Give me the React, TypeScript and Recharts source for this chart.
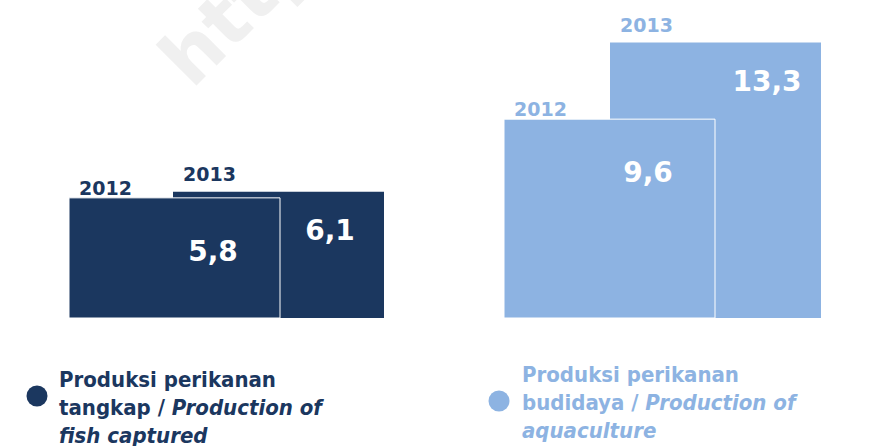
import { Bar, BarChart, Cell, LabelList, XAxis, YAxis } from "recharts";

const groups = ["Produksi perikanan tangkap", "Produksi perikanan budidaya"];
const years = ["2012", "2013"];
const values2012 = [5.8, 9.6];
const values2013 = [6.1, 13.3];
const groupColors = ["#1b375f", "#8db3e2"];

// legend text per group: each line is [plain part, italic part]
const legendLines = [
  [
    ["Produksi perikanan", ""],
    ["tangkap / ", "Production of"],
    ["", "fish captured"],
  ],
  [
    ["Produksi perikanan", ""],
    ["budidaya / ", "Production of"],
    ["", "aquaculture"],
  ],
];

const data = groups.map((group, i) => ({
  group,
  y2012: values2012[i],
  y2013: values2013[i],
}));

const FONT = "'DejaVu Sans', sans-serif";
const LEGEND_FONT = "'DejaVu Sans Condensed', 'DejaVu Sans', sans-serif";

const colorOf = (props: any, values: number[]) => {
  const idx =
    typeof props.index === "number" ? props.index : values.indexOf(props.value);
  return groupColors[idx] ?? groupColors[0];
};

// year caption above the bar
const yearLabel = (year: string, values: number[], dy: number) => (props: any) => {
  const { x, y } = props;
  return (
    <text
      x={Number(x) + 10}
      y={Number(y) + dy}
      fill={colorOf(props, values)}
      fontSize={19}
      fontWeight="bold"
      fontFamily={FONT}
    >
      {year}
    </text>
  );
};

// value inside the bar, comma as decimal mark
const valueLabel = (dx: number, dy: number) => (props: any) => {
  const { x, y, value } = props;
  return (
    <text
      x={Number(x) + dx}
      y={Number(y) + dy}
      fill="#ffffff"
      fontSize={28}
      fontWeight="bold"
      fontFamily={FONT}
      textAnchor="middle"
    >
      {String(value).replace(".", ",")}
    </text>
  );
};

const legendPos = [
  { dotX: 37, dotY: 396, textX: 59, baseY: 387 },
  { dotX: 499, dotY: 401, textX: 522, baseY: 382 },
];

const App = () => {
  return (
    <div style={{ position: "absolute", left: 0, top: 0, width: 874, height: 446 }}>
      <svg
        width={874}
        height={446}
        style={{ position: "absolute", left: 0, top: 0 }}
      >
        {/* faint watermark, mostly outside the frame */}
        <text
          x={192}
          y={90}
          transform="rotate(-45 192 90)"
          fontSize={76}
          fontWeight="bold"
          fontFamily={FONT}
          fill="#f0f0f0"
        >
          http
        </text>
        {legendLines.map((lines, g) => {
          const p = legendPos[g];
          return (
            <g key={g}>
              <circle cx={p.dotX} cy={p.dotY} r={10.5} fill={groupColors[g]} />
              <text
                x={p.textX}
                y={p.baseY}
                fill={groupColors[g]}
                fontSize={22}
                fontWeight="bold"
                fontFamily={LEGEND_FONT}
              >
                {lines.map(([plain, italic], li) => (
                  <tspan key={li} x={p.textX} y={p.baseY + li * 28}>
                    {plain}
                    {italic && <tspan fontStyle="italic">{italic}</tspan>}
                  </tspan>
                ))}
              </text>
            </g>
          );
        })}
      </svg>
      <div style={{ position: "absolute", left: 0, top: 0 }}>
        <BarChart
          width={874}
          height={446}
          data={data}
          margin={{ top: 28, right: 0, bottom: 128, left: 7 }}
        >
          <YAxis hide domain={[0, 14]} />
          <XAxis
            xAxisId="back"
            dataKey="group"
            hide
            padding={{ left: 53, right: -60 }}
          />
          <Bar
            xAxisId="back"
            dataKey="y2013"
            name={years[1]}
            barSize={211}
            isAnimationActive={false}
          >
            {data.map((_, i) => (
              <Cell key={i} fill={groupColors[i]} />
            ))}
            <LabelList dataKey="y2013" content={yearLabel(years[1], values2013, -11)} />
            <LabelList dataKey="y2013" content={valueLabel(157, 48)} />
          </Bar>
          <Bar
            xAxisId="front"
            dataKey="y2012"
            name={years[0]}
            barSize={211}
            stroke="#ffffff"
            strokeWidth={1}
            isAnimationActive={false}
          >
            {data.map((_, i) => (
              <Cell key={i} fill={groupColors[i]} stroke="#ffffff" />
            ))}
            <LabelList dataKey="y2012" content={yearLabel(years[0], values2012, -3)} />
            <LabelList dataKey="y2012" content={valueLabel(144, 63)} />
          </Bar>
          <XAxis
            xAxisId="front"
            dataKey="group"
            padding={{ left: -50, right: 47 }}
            height={0}
            tick={false}
            tickLine={false}
            axisLine={{ stroke: "#4f81bd", strokeWidth: 2 }}
          />
        </BarChart>
      </div>
    </div>
  );
};

export default App;
